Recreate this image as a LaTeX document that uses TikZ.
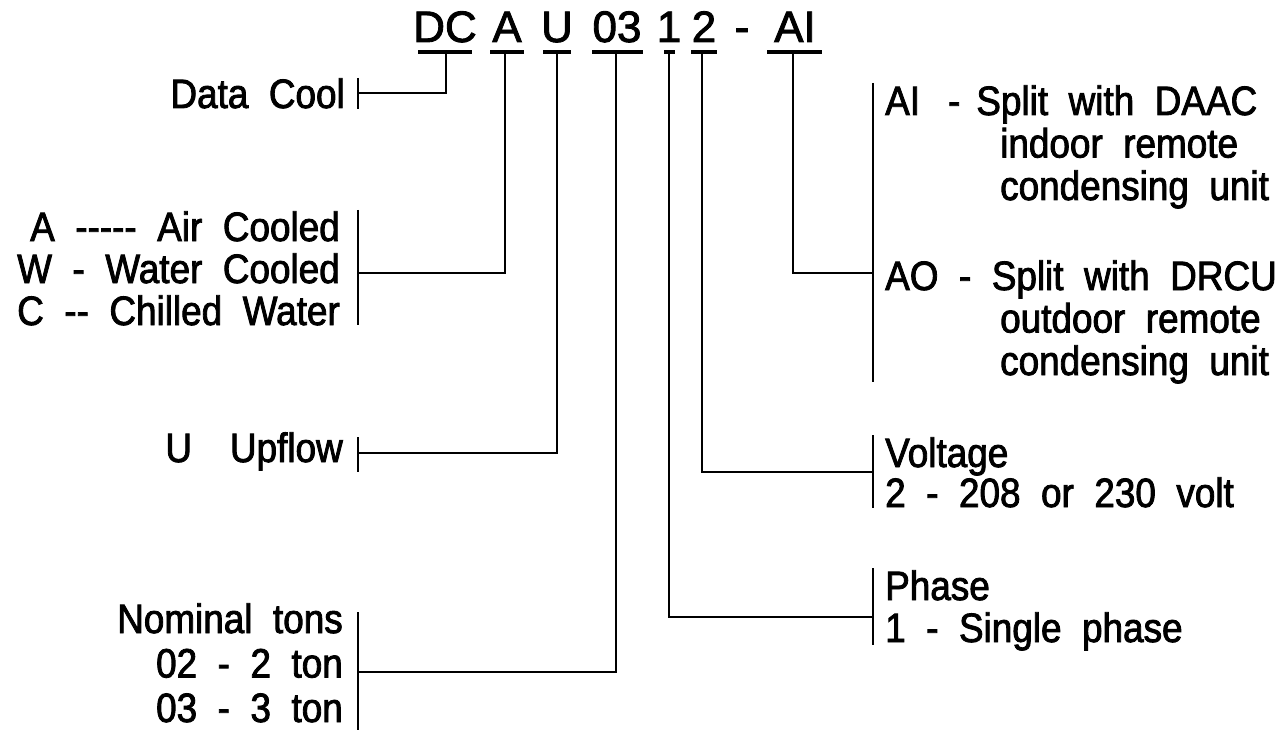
\documentclass[tikz,border=0pt]{standalone}
\usepackage{fontspec}
\setmainfont{Liberation Sans}[FakeStretch=0.9, WordSpace=2.0, RawFeature={embolden=2}]
\newfontfamily\codefont{Liberation Sans}[RawFeature={embolden=2}]
\usetikzlibrary{positioning}

\tikzset{
  lbl/.style={inner sep=0pt, font=\fontsize{41}{42}\selectfont},
  code/.style={inner sep=0pt, font=\codefont\fontsize{44}{44}\selectfont},
  bar/.style={line width=4pt},
  link/.style={line width=2pt},
  tick/.style={line width=2pt},
}

\begin{document}
\begin{tikzpicture}[x=1pt,y=-1pt]
    \useasboundingbox (0,0) rectangle (1288,730);

    % model code
    \node[code, anchor=base] (cDC) at (445,42) {DC};
    \node[code, anchor=base] (cA) at (507,42) {A};
    \node[code, anchor=base] (cU) at (557,42) {U};
    \node[code, anchor=base] (c03) at (617,42) {03};
    \node[code, anchor=base] (c1) at (669,42) {1};
    \node[code, anchor=base] (c2) at (704,42) {2};
    \node[code, anchor=base] (cdash) at (742,42) {-};
    \node[code, anchor=base] (cAI) at (795,42) {AI};

    % bars under the code
    \coordinate (bDC) at (446,52);
    \coordinate (bA) at (505,52);
    \coordinate (bU) at (557,52);
    \coordinate (b03) at (616,52);
    \coordinate (b1) at (669,52);
    \coordinate (b2) at (702,52);
    \coordinate (bAI) at (793,52);
    \draw[bar] (418,52) -- (472,52);
    \draw[bar] (490,52) -- (524,52);
    \draw[bar] (543,52) -- (571,52);
    \draw[bar] (592,52) -- (643,52);
    \draw[bar] (664,52) -- (675,52);
    \draw[bar] (691,52) -- (717,52);
    \draw[bar] (767,52) -- (822,52);

    % left labels (base = last line)
    \node[lbl, anchor=base east] (datacool) at (345,108) {Data Cool};
    \node[lbl, anchor=base east, align=right] (cooling) at (340,325)
        {A -{}-{}-{}-{}- Air Cooled\\ W - Water Cooled\\ C -{}- Chilled Water};
    \node[lbl, anchor=base east] (upflow) at (343,462) {U\hspace{38pt}Upflow};
    \node[lbl, anchor=base east, align=right, font=\fontsize{41}{44.5}\selectfont] (tons) at (343,722)
        {Nominal tons\\ 02 - 2 ton\\ 03 - 3 ton};

    % right labels
    \node[lbl, anchor=base west, align=left, font=\fontsize{41}{42.5}\selectfont] (indoor) at (885,200)
        {AI\hspace{28pt}-\hspace{16pt}Split with DAAC\\
         \hspace{115pt}indoor remote\\
         \hspace{115pt}condensing unit};
    \node[lbl, anchor=base west, align=left, font=\fontsize{41}{42.5}\selectfont] (outdoor) at (885,375)
        {AO - Split with DRCU\\
         \hspace{115pt}outdoor remote\\
         \hspace{115pt}condensing unit};
    \node[lbl, anchor=base west, align=left, font=\fontsize{41}{40}\selectfont] (voltage) at (885,507)
        {Voltage\\ 2 - 208 or 230 volt};
    \node[lbl, anchor=base west, align=left] (phase) at (885,642)
        {Phase\\ 1 - Single phase};

    % brackets
    \coordinate (kDC) at (358,93);
    \coordinate (kA) at (358,273);
    \coordinate (kU) at (358,453);
    \coordinate (k03) at (358,672);
    \coordinate (kAI) at (873,273);
    \coordinate (k2) at (873,472);
    \coordinate (k1) at (873,617);
    \draw[tick] (358,78) -- (358,109);
    \draw[tick] (358,210) -- (358,325);
    \draw[tick] (358,437) -- (358,472);
    \draw[tick] (358,612) -- (358,730);
    \draw[tick] (873,83) -- (873,382);
    \draw[tick] (873,435) -- (873,508);
    \draw[tick] (873,568) -- (873,645);

    % connectors
    \draw[link] (bDC) |- (kDC);
    \draw[link] (bA) |- (kA);
    \draw[link] (bU) |- (kU);
    \draw[link] (b03) |- (k03);
    \draw[link] (b1) |- (k1);
    \draw[link] (b2) |- (k2);
    \draw[link] (bAI) |- (kAI);

\end{tikzpicture}
\end{document}
